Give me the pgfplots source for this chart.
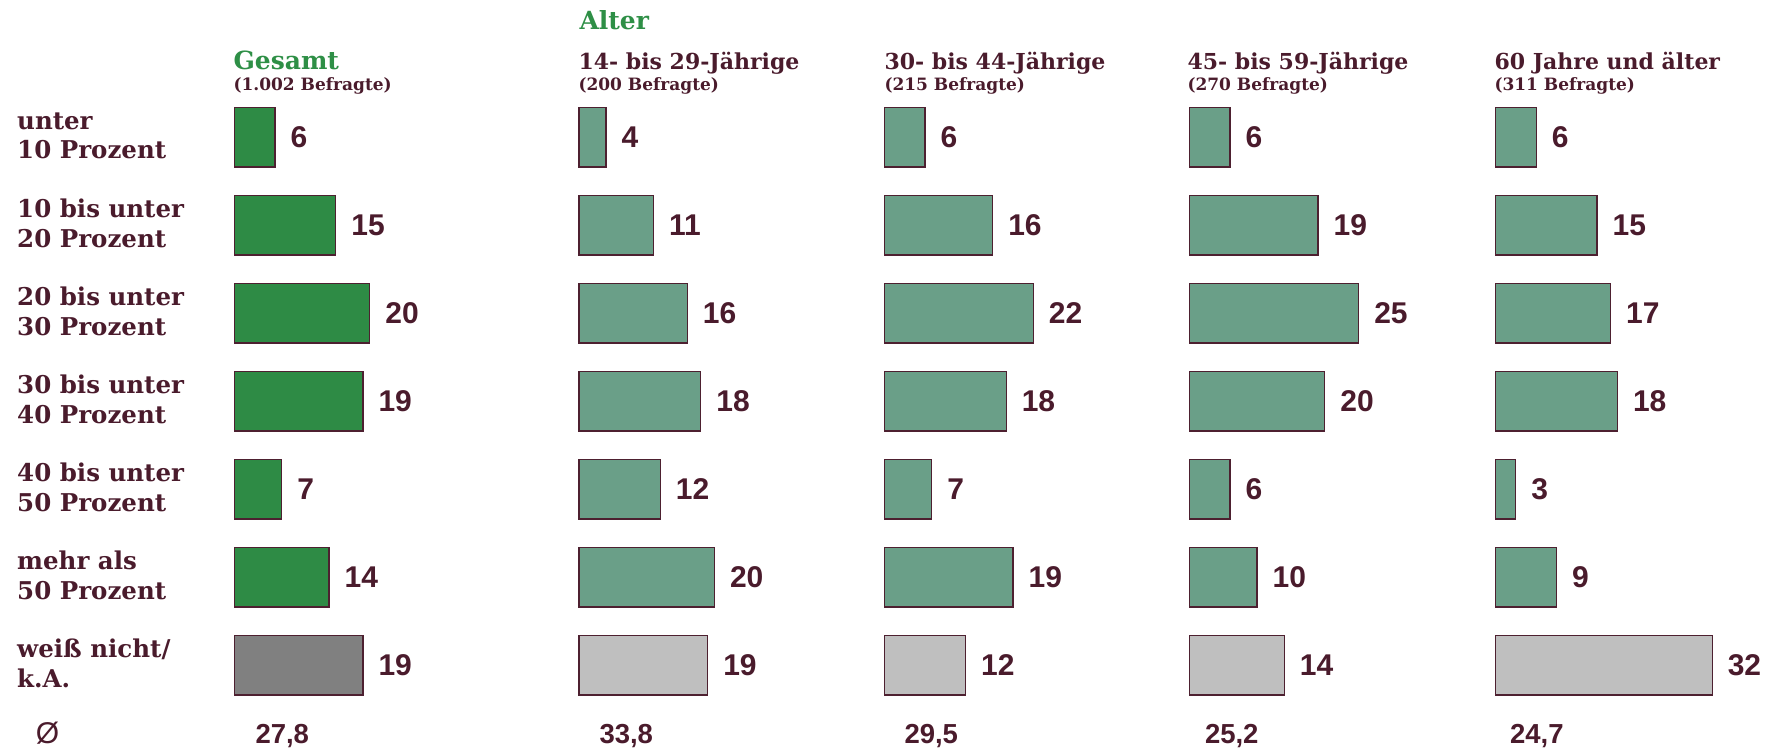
\documentclass[border=0pt]{standalone}
\usepackage{pgfplots}
\pgfplotsset{compat=1.18}
\usepackage{fontspec}
\setmainfont{DejaVu Serif}
\newfontfamily\numfont{Liberation Sans}
\definecolor{txt}{RGB}{74,27,44}
\definecolor{gGreen}{RGB}{46,139,69}
\definecolor{aGreen}{RGB}{106,159,136}
\definecolor{dGray}{RGB}{128,128,128}
\definecolor{lGray}{RGB}{191,191,191}
\definecolor{bord}{RGB}{77,32,48}
\definecolor{ttlGreen}{RGB}{46,143,70}

\pgfplotsset{panel/.style={
  hide axis, xbar, x=2.708pt, y=35.2pt, y dir=reverse,
  xmin=0, xmax=40, ymin=-0.5, ymax=6.5,
  anchor=north west, clip=false,
  bar width=23.72pt,
  nodes near coords,
  /pgf/number format/assume math mode=true,
  every node near coord/.append style={font=\numfont\bfseries\fontsize{12}{14}\selectfont, text=txt, anchor=west, inner sep=0pt, xshift=6pt},
  },
  barA/.style={fill=#1, draw=bord, line width=0.5pt, bar shift=0pt},
}

\begin{document}
\begin{tikzpicture}
% Gesamt
\begin{axis}[panel, at={(93.72pt,-37.32pt)}]
\addplot[barA=gGreen] coordinates {(6,0) (15,1) (20,2) (19,3) (7,4) (14,5)};
\addplot[barA=dGray] coordinates {(19,6)};
\end{axis}
% 14-29
\begin{axis}[panel, at={(231.6pt,-37.32pt)}]
\addplot[barA=aGreen] coordinates {(4,0) (11,1) (16,2) (18,3) (12,4) (20,5)};
\addplot[barA=lGray] coordinates {(19,6)};
\end{axis}
% 30-44
\begin{axis}[panel, at={(353.72pt,-37.32pt)}]
\addplot[barA=aGreen] coordinates {(6,0) (16,1) (22,2) (18,3) (7,4) (19,5)};
\addplot[barA=lGray] coordinates {(12,6)};
\end{axis}
% 45-59
\begin{axis}[panel, at={(475.76pt,-37.32pt)}]
\addplot[barA=aGreen] coordinates {(6,0) (19,1) (25,2) (20,3) (6,4) (10,5)};
\addplot[barA=lGray] coordinates {(14,6)};
\end{axis}
% 60+
\begin{axis}[panel, at={(598.2pt,-37.32pt)}]
\addplot[barA=aGreen] coordinates {(6,0) (15,1) (17,2) (18,3) (3,4) (9,5)};
\addplot[barA=lGray] coordinates {(32,6)};
\end{axis}

% row labels
\begin{scope}[every node/.style={anchor=base west, inner sep=0pt, text=txt, font=\bfseries\fontsize{9.8}{12}\selectfont}]
\foreach \a/\b/\y in {unter/10 Prozent/0, 10 bis unter/20 Prozent/1, 20 bis unter/30 Prozent/2, 30 bis unter/40 Prozent/3, 40 bis unter/50 Prozent/4, mehr als/50 Prozent/5, {weiß nicht/}/k.A./6}{
  \node at (6.68pt,{-51.6pt-35.2pt*\y}) {\a};
  \node at (6.68pt,{-63.6pt-35.2pt*\y}) {\b};
}
\end{scope}

% headers
\begin{scope}[every node/.style={anchor=base west, inner sep=0pt, text=txt}]
\node[text=ttlGreen, font=\bfseries\fontsize{10}{12}\selectfont] at (231.6pt,-11.7pt) {Alter};
\node[text=ttlGreen, font=\bfseries\fontsize{10}{12}\selectfont] at (93.2pt,-27.7pt) {Gesamt};
\foreach \x/\t/\s in {93.2/{}/1.002, 231.2/14- bis 29-Jährige/200, 353.6/30- bis 44-Jährige/215, 474.8/45- bis 59-Jährige/270, 597.6/60 Jahre und älter/311}{
  \node[font=\bfseries\fontsize{8.8}{10}\selectfont] at (\x pt,-27.7pt) {\t};
  \node[font=\bfseries\fontsize{6.8}{8}\selectfont] at (\x pt,-36.4pt) {(\s\ Befragte)};
}
% mean row
\node[font=\numfont\fontsize{12}{14}\selectfont] at (14.2pt,-297.2pt) {Ø};
\foreach \x/\v in {102/27{,}8, 239.6/33{,}8, 361.6/29{,}5, 481.8/25{,}2, 603.8/24{,}7}{
  \node[font=\numfont\bfseries\fontsize{11}{13}\selectfont] at (\x pt,-297.2pt) {\v};
}
\end{scope}

\pgfresetboundingbox
\path[use as bounding box] (0,0) rectangle (708.4pt,-299.6pt);
\end{tikzpicture}
\end{document}
